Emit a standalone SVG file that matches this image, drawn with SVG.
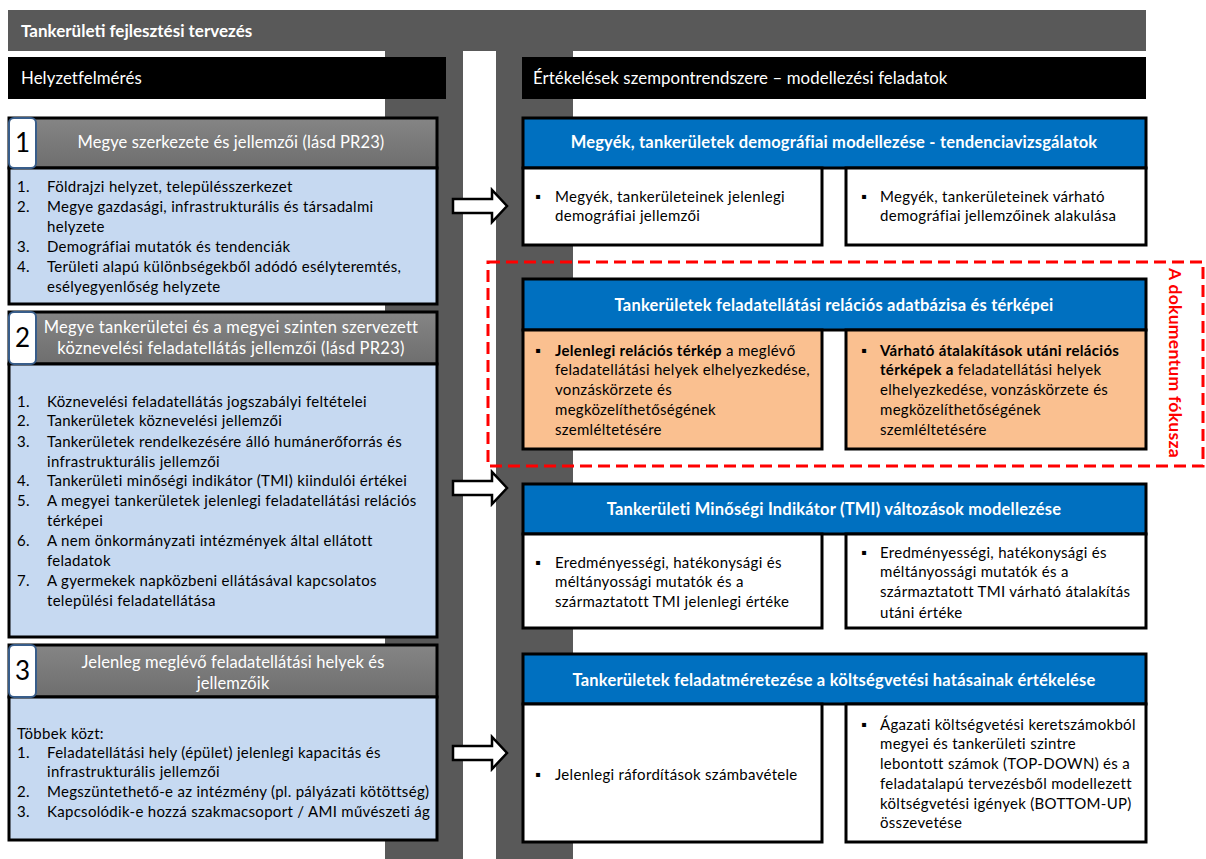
<svg xmlns="http://www.w3.org/2000/svg" width="1206" height="859" viewBox="0 0 1206 859">
<defs>
<style>
.t{font-family:Lato,"Liberation Sans",sans-serif;fill:#000;font-size:15px;letter-spacing:0.3px}
.w{fill:#fff}
.b{font-weight:bold}
.hb{font-family:Lato,"Liberation Sans",sans-serif;font-size:16.5px;letter-spacing:0.2px;font-weight:bold;fill:#fff;text-anchor:middle}
.hl{font-family:Lato,"Liberation Sans",sans-serif;font-size:16.5px;letter-spacing:0.1px;fill:#fff;text-anchor:middle}
.num{font-family:Lato,"Liberation Sans",sans-serif;font-size:26px;fill:#000;text-anchor:middle}
.frame{stroke:#000;stroke-width:3}
.lh{fill:url(#gh)}
.lb{fill:#C6D9F1}
.bh{fill:#0070C0}
.sw{fill:#fff}
.so{fill:#FAC090}
.badge{fill:#fff;stroke:#385D8A;stroke-width:2}
.arrow{fill:#fff;stroke:#000;stroke-width:2.5;stroke-linejoin:miter}
</style>
<linearGradient id="gh" x1="0" y1="0" x2="0" y2="1">
<stop offset="0" stop-color="#858585"/>
<stop offset="1" stop-color="#6e6e6e"/>
</linearGradient>
</defs>
<rect width="1206" height="859" fill="#fff"/>
<g id="background">
<rect x="385" y="50" width="78" height="809" fill="#595959"/>
<rect x="496" y="50" width="77" height="809" fill="#595959"/>
<rect x="8" y="10" width="1138" height="41" fill="#595959"/>
<text x="21" y="37" class="w b" style="font-family:Lato,'Liberation Sans',sans-serif;font-size:17px">Tankerületi fejlesztési tervezés</text>
<rect x="8" y="57" width="438" height="42" fill="#000"/>
<text x="21" y="84" class="w" style="font-family:Lato,'Liberation Sans',sans-serif;font-size:16.8px;letter-spacing:0.1px">Helyzetfelmérés</text>
<rect x="522" y="57" width="624" height="42" fill="#000"/>
<text x="533" y="84" class="w" style="font-family:Lato,'Liberation Sans',sans-serif;font-size:16.8px;letter-spacing:0.1px">Értékelések szempontrendszere – modellezési feladatok</text>
</g>

<g id="box1">
<rect x="9" y="118" width="428" height="50" class="lh frame"/>
<rect x="9" y="168" width="428" height="136" class="lb frame"/>
<rect x="9" y="118" width="27" height="50" rx="5" class="badge"/>
<text x="22.5" y="152" class="num">1</text>
<text x="231" y="148" class="hl">Megye szerkezete és jellemzői (lásd PR23)</text>
<text class="t">
<tspan x="17" y="192">1.</tspan><tspan x="47" y="192">Földrajzi helyzet, településszerkezet</tspan>
<tspan x="17" y="212">2.</tspan><tspan x="47" y="212">Megye gazdasági, infrastrukturális és társadalmi</tspan>
<tspan x="47" y="232">helyzete</tspan>
<tspan x="17" y="252">3.</tspan><tspan x="47" y="252">Demográfiai mutatók és tendenciák</tspan>
<tspan x="17" y="272">4.</tspan><tspan x="47" y="272">Területi alapú különbségekből adódó esélyteremtés,</tspan>
<tspan x="47" y="292">esélyegyenlőség helyzete</tspan>
</text>
</g>

<g id="box2">
<rect x="9" y="312" width="428" height="52" class="lh frame"/>
<rect x="9" y="364" width="428" height="273" class="lb frame"/>
<rect x="9" y="312" width="27" height="52" rx="5" class="badge"/>
<text x="22.5" y="347" class="num">2</text>
<text x="231" y="333" class="hl" style="letter-spacing:0.25px">Megye tankerületei és a megyei szinten szervezett</text>
<text x="231" y="354" class="hl" style="letter-spacing:0.25px">köznevelési feladatellátás jellemzői (lásd PR23)</text>
<text class="t">
<tspan x="17" y="407">1.</tspan><tspan x="47" y="407">Köznevelési feladatellátás jogszabályi feltételei</tspan>
<tspan x="17" y="426">2.</tspan><tspan x="47" y="426">Tankerületek köznevelési jellemzői</tspan>
<tspan x="17" y="447">3.</tspan><tspan x="47" y="447">Tankerületek rendelkezésére álló humánerőforrás és</tspan>
<tspan x="47" y="467">infrastrukturális jellemzői</tspan>
<tspan x="17" y="486">4.</tspan><tspan x="47" y="486">Tankerületi minőségi indikátor  (TMI) kiindulói értékei</tspan>
<tspan x="17" y="506">5.</tspan><tspan x="47" y="506">A megyei tankerületek jelenlegi feladatellátási relációs</tspan>
<tspan x="47" y="526">térképei</tspan>
<tspan x="17" y="546">6.</tspan><tspan x="47" y="546">A nem önkormányzati intézmények által ellátott</tspan>
<tspan x="47" y="566">feladatok</tspan>
<tspan x="17" y="586">7.</tspan><tspan x="47" y="586">A gyermekek napközbeni ellátásával kapcsolatos</tspan>
<tspan x="47" y="606">települési feladatellátása</tspan>
</text>
</g>

<g id="box3">
<rect x="9" y="645" width="428" height="52" class="lh frame"/>
<rect x="9" y="697" width="428" height="143" class="lb frame"/>
<rect x="9" y="645" width="27" height="52" rx="5" class="badge"/>
<text x="22.5" y="680" class="num">3</text>
<text x="233" y="668" class="hl">Jelenleg meglévő feladatellátási helyek és</text>
<text x="233" y="689" class="hl">jellemzőik</text>
<text class="t">
<tspan x="17" y="739">Többek közt:</tspan>
<tspan x="17" y="758">1.</tspan><tspan x="47" y="758">Feladatellátási hely (épület) jelenlegi kapacitás és</tspan>
<tspan x="47" y="777">infrastrukturális jellemzői</tspan>
<tspan x="17" y="797">2.</tspan><tspan x="47" y="797">Megszüntethető-e az intézmény (pl. pályázati kötöttség)</tspan>
<tspan x="17" y="817">3.</tspan><tspan x="47" y="817">Kapcsolódik-e hozzá szakmacsoport / AMI művészeti ág</tspan>
</text>
</g>

<g id="demog">
<rect x="523" y="118" width="623" height="50" class="bh frame"/>
<text x="834" y="148" class="hb">Megyék, tankerületek demográfiai modellezése - tendenciavizsgálatok</text>
<rect x="523" y="168" width="299" height="77" class="sw frame"/>
<rect x="846" y="168" width="300" height="77" class="sw frame"/>
<text class="t">
<tspan x="535" y="202">▪</tspan><tspan x="555" y="202">Megyék, tankerületeinek jelenlegi</tspan>
<tspan x="555" y="221">demográfiai jellemzői</tspan>
<tspan x="861" y="202">▪</tspan><tspan x="880" y="202">Megyék, tankerületeinek várható</tspan>
<tspan x="880" y="221">demográfiai jellemzőinek alakulása</tspan>
</text>
</g>

<g id="focus">
<rect x="488" y="262" width="715" height="204" fill="none" stroke="#FF0000" stroke-width="3" stroke-dasharray="12 6"/>
<text transform="translate(1169 363) rotate(90)" text-anchor="middle" style="font-family:Lato,'Liberation Sans',sans-serif;font-size:17.5px;font-weight:bold;letter-spacing:0.3px;fill:#FF0000">A dokumentum fókusza</text>
</g>

<g id="relational">
<rect x="523" y="279" width="623" height="51" class="bh frame"/>
<text x="834" y="311" class="hb">Tankerületek feladatellátási relációs adatbázisa és térképei</text>
<rect x="523" y="330" width="299" height="119" class="so frame"/>
<rect x="846" y="330" width="300" height="119" class="so frame"/>
<text class="t">
<tspan x="535" y="356">▪</tspan><tspan x="555" y="356" class="b">Jelenlegi relációs térkép</tspan><tspan> a meglévő</tspan>
<tspan x="555" y="375">feladatellátási helyek elhelyezkedése,</tspan>
<tspan x="555" y="395">vonzáskörzete és</tspan>
<tspan x="555" y="415">megközelíthetőségének</tspan>
<tspan x="555" y="435">szemléltetésére</tspan>
<tspan x="861" y="356">▪</tspan><tspan x="880" y="356" class="b">Várható átalakítások utáni relációs</tspan>
<tspan x="880" y="375" class="b">térképek a</tspan><tspan> feladatellátási helyek</tspan>
<tspan x="880" y="395">elhelyezkedése, vonzáskörzete és</tspan>
<tspan x="880" y="415">megközelíthetőségének</tspan>
<tspan x="880" y="435">szemléltetésére</tspan>
</text>
</g>

<g id="tmi">
<rect x="523" y="484" width="623" height="50" class="bh frame"/>
<text x="834" y="515" class="hb">Tankerületi Minőségi Indikátor (TMI) változások modellezése</text>
<rect x="523" y="534" width="299" height="94" class="sw frame"/>
<rect x="846" y="534" width="300" height="94" class="sw frame"/>
<text class="t">
<tspan x="535" y="568">▪</tspan><tspan x="555" y="568">Eredményességi, hatékonysági és</tspan>
<tspan x="555" y="587">méltányossági mutatók és a</tspan>
<tspan x="555" y="607">származtatott TMI jelenlegi értéke</tspan>
<tspan x="861" y="558">▪</tspan><tspan x="880" y="558">Eredményességi, hatékonysági és</tspan>
<tspan x="880" y="577">méltányossági mutatók és a</tspan>
<tspan x="880" y="597">származtatott TMI várható átalakítás</tspan>
<tspan x="880" y="618">utáni értéke</tspan>
</text>
</g>

<g id="budget">
<rect x="523" y="654" width="623" height="50" class="bh frame"/>
<text x="834" y="686" class="hb">Tankerületek feladatméretezése a költségvetési hatásainak értékelése</text>
<rect x="523" y="704" width="299" height="138" class="sw frame"/>
<rect x="846" y="704" width="300" height="138" class="sw frame"/>
<text class="t">
<tspan x="535" y="780">▪</tspan><tspan x="555" y="780">Jelenlegi ráfordítások számbavétele</tspan>
<tspan x="861" y="730">▪</tspan><tspan x="880" y="730">Ágazati költségvetési keretszámokból</tspan>
<tspan x="880" y="749">megyei és tankerületi szintre</tspan>
<tspan x="880" y="769">lebontott számok (TOP-DOWN) és a</tspan>
<tspan x="880" y="789">feladatalapú tervezésből modellezett</tspan>
<tspan x="880" y="809">költségvetési igények (BOTTOM-UP)</tspan>
<tspan x="880" y="828">összevetése</tspan>
</text>
</g>

<g id="connectors">
<polygon class="arrow" points="453,199 492,199 492,190 507,206 492,222 492,213 453,213"/>
<polygon class="arrow" points="453,481 492,481 492,472 507,488 492,504 492,495 453,495"/>
<polygon class="arrow" points="453,746 492,746 492,737 507,753 492,769 492,760 453,760"/>
</g>
</svg>
